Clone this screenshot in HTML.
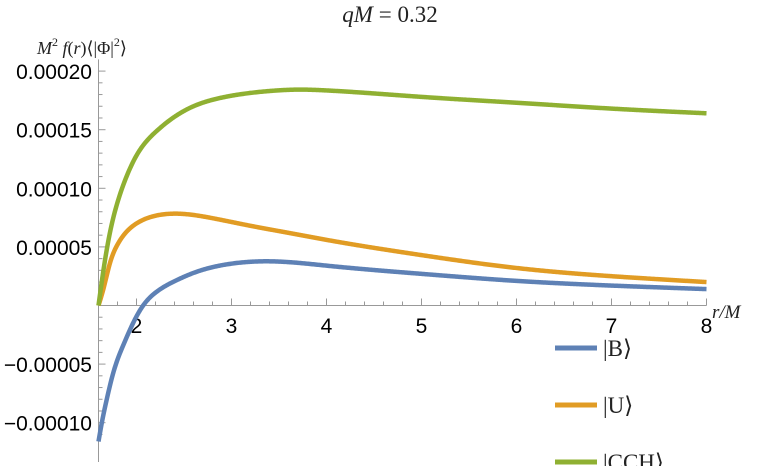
<!DOCTYPE html>
<html><head><meta charset="utf-8"><style>
body{margin:0;background:#fff;}
svg{display:block;}
.tk{font-family:"Liberation Sans",sans-serif;font-size:21px;fill:#000;}
.math{font-family:"Liberation Serif",serif;fill:#222;}
</style></head><body>
<svg id="chart" width="781" height="466" viewBox="0 0 781 466">
<text class="math" x="390" y="22" font-size="23" text-anchor="middle"><tspan font-style="italic">qM</tspan> = 0.32</text>
<text class="math" x="37" y="54" font-size="18"><tspan font-style="italic">M</tspan><tspan font-size="12" dy="-8">2</tspan><tspan dy="8" font-style="italic"> f</tspan>(<tspan font-style="italic">r</tspan>)⟨|Φ|<tspan font-size="12" dy="-8">2</tspan><tspan dy="8">⟩</tspan></text>
<text class="math" x="712" y="318" font-size="19" font-style="italic">r/M</text>
<g id="axes"></g>
<g id="series"></g>
<g id="legend"></g>
</svg>
<script>
const xTicks=[2,3,4,5,6,7,8];
const yTicks=[-0.0001,-0.00005,0.00005,0.0001,0.00015,0.0002];
const yTickLabels=["\u22120.00010","\u22120.00005","0.00005","0.00010","0.00015","0.00020"];
const seriesNames=["|B\u27E9","|U\u27E9","|CCH\u27E9"];
const seriesColors=["#5e81b5","#e19c24","#8fb032"];
const rB=[1.6,1.635,1.687,1.757,1.86,1.966,2.07,2.2,2.4,2.6,3.0,3.4,4,5,6,7,8];
const vB=[-0.000116,-0.0001,-0.00008,-0.000057,-0.000034,-0.0000147,0,0.000011,0.0000207,0.0000278,0.0000357,0.0000377,0.000034,0.000027,0.000021,0.000017,0.000014];
const rU=[1.6,1.65,1.72,1.8,2,2.2,2.45,2.8,3.2,3.6,4,5,6,7,8];
const vU=[0,0.0000136,0.000036,0.000052,0.00007,0.0000766,0.0000783,0.0000745,0.000068,0.000062,0.000056,0.000043,0.000032,0.000025,0.00002];
const rC=[1.6,1.65,1.72,1.8,1.9,2,2.2,2.4,2.6,2.8,3,3.4,3.7,4,5,6,7,8];
const vC=[0,0.000029,0.000062,0.000088,0.000111,0.000128,0.000148,0.000161,0.00017,0.0001755,0.000179,0.000183,0.0001842,0.0001835,0.000178,0.000173,0.000168,0.000164];
const X=r=>136.5+(r-2)*95;
const Y=v=>305.5-v*1172000;
const NS="http://www.w3.org/2000/svg";
function mk(t,a,p){const e=document.createElementNS(NS,t);for(const k in a)e.setAttribute(k,a[k]);p.appendChild(e);return e;}
const ax=document.getElementById('axes');
const xa=mk('line',{x1:X(1.6),y1:Y(0),x2:X(8),y2:Y(0),stroke:'#999','stroke-width':1},ax);


const ya=mk('line',{x1:X(1.6),y1:Y(0.00021),x2:X(1.6),y2:462,stroke:'#999','stroke-width':1},ax);


for(let i=0;i<=32;i++){const r=1.6+i*0.2;if(r>8.01)break;const maj=Math.abs(r-Math.round(r))<0.01;
mk('line',{x1:X(r),y1:Y(0),x2:X(r),y2:Y(0)-(maj?7:4),stroke:'#999'},ax);}
for(let i=-11;i<=20;i++){const v=i*0.00001;const maj=i%5==0;
mk('line',{x1:X(1.6),y1:Y(v),x2:X(1.6)+(maj?7:4),y2:Y(v),stroke:'#999'},ax);}
xTicks.forEach(t=>{const e=mk('text',{x:X(t),y:333,'text-anchor':'middle',class:'tk'},ax);e.textContent=t;

});
yTicks.forEach((t,i)=>{const e=mk('text',{x:92,y:Y(t)+8,'text-anchor':'end',class:'tk'},ax);e.textContent=yTickLabels[i];

});
function spline(xs,ys){const n=xs.length,h=[],al=[],l=[1],mu=[0],z=[0],c=new Array(n).fill(0);
for(let i=0;i<n-1;i++)h.push(xs[i+1]-xs[i]);
for(let i=1;i<n-1;i++)al[i]=3/h[i]*(ys[i+1]-ys[i])-3/h[i-1]*(ys[i]-ys[i-1]);
for(let i=1;i<n-1;i++){l[i]=2*(xs[i+1]-xs[i-1])-h[i-1]*mu[i-1];mu[i]=h[i]/l[i];z[i]=(al[i]-h[i-1]*z[i-1])/l[i];}
z[n-1]=0;const b=[],d=[];
for(let j=n-2;j>=0;j--){c[j]=z[j]-mu[j]*c[j+1];b[j]=(ys[j+1]-ys[j])/h[j]-h[j]*(c[j+1]+2*c[j])/3;d[j]=(c[j+1]-c[j])/(3*h[j]);}
return x=>{let i=0;while(i<n-2&&x>xs[i+1])i++;const t=x-xs[i];return ys[i]+b[i]*t+c[i]*t*t+d[i]*t*t*t;};}
function path(rs,vs){const f=spline(rs,vs);let d='';const a=rs[0],b=rs[rs.length-1];
for(let k=0;k<=600;k++){const r=a+(b-a)*k/600;d+=(k?' L':'M')+X(r).toFixed(2)+','+Y(f(r)).toFixed(2);}return d;}
const sg=document.getElementById('series');
const data=[[rB,vB],[rU,vU],[rC,vC]];
const sn=['series-b','series-u','series-cch'];
data.forEach((s,i)=>{const e=mk('path',{d:path(s[0],s[1]),fill:'none',stroke:seriesColors[i],'stroke-width':4.5,'stroke-linejoin':'round'},sg);

});
const lg=document.getElementById('legend');
const ly=[348,405,462];
seriesNames.forEach((n,i)=>{const g=mk('g',{},lg);


mk('line',{x1:555,y1:ly[i],x2:597,y2:ly[i],stroke:seriesColors[i],'stroke-width':5},g);
const t=mk('text',{x:603,y:ly[i]+8,class:'math','font-size':23},g);t.textContent=n;});
</script>
</body></html>
